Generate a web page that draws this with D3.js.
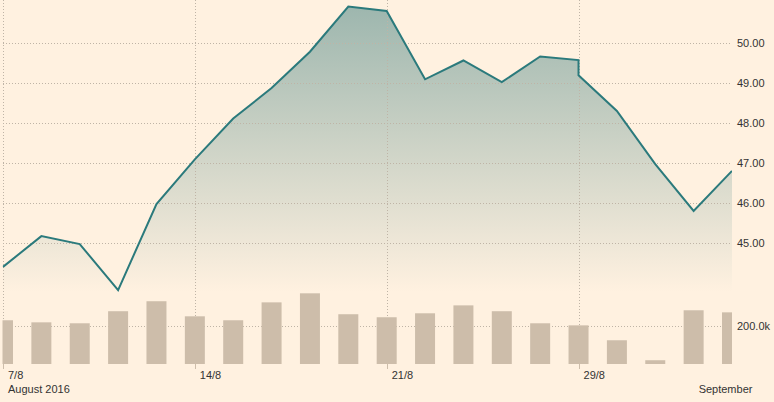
<!DOCTYPE html>
<html>
<head>
<meta charset="utf-8">
<script src="https://cdn.jsdelivr.net/npm/d3@7/dist/d3.min.js"></script>
<style>
  html, body { margin: 0; padding: 0; background: #fff1e0; }
  svg { display: block; }
  text { font-family: "Liberation Sans", Arial, sans-serif; font-size: 11px; fill: #333; }
</style>
</head>
<body>
<svg id="chart" width="774" height="402"></svg>
<script>
// ---- data ----
const days = ["8/8","9/8","10/8","11/8","12/8","15/8","16/8","17/8","18/8","19/8",
              "22/8","23/8","24/8","25/8","26/8","29/8","30/8","31/8","1/9","2/9"];
const priceDays = ["8/8","9/8","10/8","11/8","12/8","15/8","16/8","17/8","18/8","19/8",
                   "22/8","23/8","24/8","25/8","26/8","29/8","29/8","30/8","31/8","1/9","2/9"];
const prices = [44.41, 45.18, 44.98, 43.83, 45.98, 47.10, 48.12, 48.88, 49.79, 50.92,
                50.81, 49.10, 49.57, 49.03, 49.67, 49.58, 49.20, 48.31, 46.98, 45.81, 46.81];
const volumes = [232000, 221000, 216000, 280000, 333000, 253000, 232000, 327000, 375000, 264000,
                 248000, 269000, 311000, 280000, 216000, 205000, 126000, 20000, 285000, 274000];
const priceTicks = [45, 46, 47, 48, 49, 50];
const volumeTicks = [200000];
const tickDays = ["8/8", "15/8", "22/8", "29/8"];
const tickLabels = ["7/8", "14/8", "21/8", "29/8"];
const periodDays = ["8/8", "1/9"];
const periodLabels = ["August 2016", "September"];

// ---- layout ----
const svg = d3.select("#chart");
const left = 3, right = 732;
const x = d3.scalePoint().domain(days).range([left, right]);
const y = d3.scaleLinear().domain([45, 50]).range([243.3, 43.3]);
const yv = d3.scaleLinear().domain([0, 200000]).range([364, 326.3]);
const gridColor = "#bfb4a6";

const defs = svg.append("defs");
defs.append("clipPath").attr("id", "clip")
  .append("rect").attr("x", 2.5).attr("y", 0).attr("width", right - 2.5).attr("height", 402);
const grad = defs.append("linearGradient").attr("id", "areaGrad")
  .attr("gradientUnits", "userSpaceOnUse").attr("x1", 0).attr("x2", 0).attr("y1", 0).attr("y2", 292);
grad.append("stop").attr("offset", 0).attr("stop-color", "#9bb5ad");
grad.append("stop").attr("offset", 1).attr("stop-color", "#fff1e0");

const pts = priceDays.map((d, i) => ({ d, v: prices[i] }));
const plot = svg.append("g").attr("clip-path", "url(#clip)");

// area
plot.append("path").datum(pts)
  .attr("d", d3.area().x(p => x(p.d)).y0(292).y1(p => y(p.v)))
  .attr("fill", "url(#areaGrad)");

// gridlines
svg.append("g").selectAll("line").data(priceTicks).join("line")
  .attr("x1", left).attr("x2", right)
  .attr("y1", d => Math.round(y(d)) + 0.5).attr("y2", d => Math.round(y(d)) + 0.5)
  .attr("stroke", gridColor).attr("stroke-dasharray", "1,2");
svg.append("g").selectAll("line").data(volumeTicks).join("line")
  .attr("x1", left).attr("x2", right)
  .attr("y1", d => Math.round(yv(d)) + 0.5).attr("y2", d => Math.round(yv(d)) + 0.5)
  .attr("stroke", gridColor).attr("stroke-dasharray", "1,2");
svg.append("g").selectAll("line").data(tickDays).join("line")
  .attr("x1", d => Math.round(x(d)) + 0.5).attr("x2", d => Math.round(x(d)) + 0.5)
  .attr("y1", 0).attr("y2", 364)
  .attr("stroke", gridColor).attr("stroke-dasharray", "1,2");

// volume bars + line
const plot2 = svg.append("g").attr("clip-path", "url(#clip)");
const bw = 20;
plot2.append("g").selectAll("rect").data(days).join("rect")
  .attr("x", (d) => x(d) - bw / 2)
  .attr("width", bw)
  .attr("y", (d, i) => yv(volumes[i]))
  .attr("height", (d, i) => yv(0) - yv(volumes[i]))
  .attr("fill", "#cdbdaa");

plot2.append("path").datum(pts)
  .attr("d", d3.line().x(p => x(p.d)).y(p => y(p.v)))
  .attr("fill", "none").attr("stroke", "#2b7a7c").attr("stroke-width", 2)
  .attr("stroke-linejoin", "miter");

// x ticks
svg.append("g").selectAll("line").data(tickDays).join("line")
  .attr("x1", d => Math.round(x(d)) + 0.5).attr("x2", d => Math.round(x(d)) + 0.5)
  .attr("y1", 364).attr("y2", 369)
  .attr("stroke", "#cdbdaa");
svg.append("g").selectAll("text").data(tickDays).join("text")
  .attr("x", d => x(d) + 5).attr("y", 379)
  .text((d, i) => tickLabels[i]);
svg.append("g").selectAll("text").data(periodDays).join("text")
  .attr("x", d => x(d) + 5).attr("y", 393)
  .text((d, i) => periodLabels[i]);

// right axis labels
svg.append("g").selectAll("text").data(priceTicks).join("text")
  .attr("x", 737).attr("y", d => y(d)).attr("dy", "0.35em")
  .text(d => d3.format(".2f")(d));
svg.append("g").selectAll("text").data(volumeTicks).join("text")
  .attr("x", 737).attr("y", d => yv(d)).attr("dy", "0.35em")
  .text(d => d3.format(".1f")(d / 1000) + "k");
</script>
</body>
</html>
